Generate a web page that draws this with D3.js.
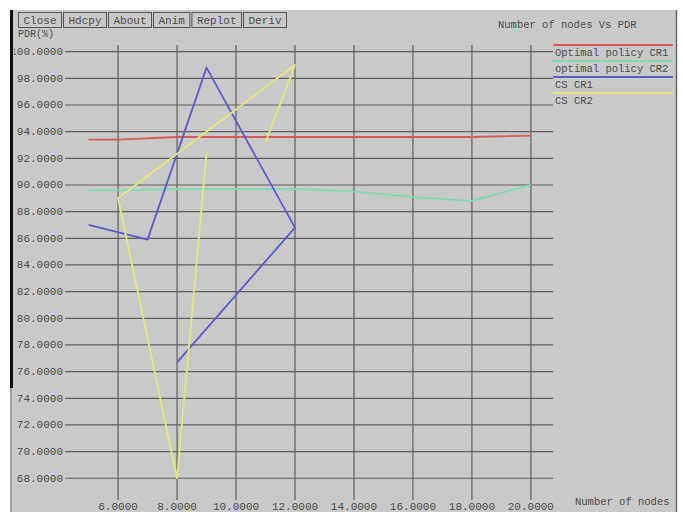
<!DOCTYPE html>
<html>
<head>
<meta charset="utf-8">
<script src="https://cdn.jsdelivr.net/npm/d3@7"></script>
<style>
  html, body { margin: 0; padding: 0; background: #ffffff; }
  svg { display: block; }
  text { font-family: "Liberation Mono", "DejaVu Sans Mono", monospace; }
</style>
</head>
<body>
<script>
// ---- data ----
const chartTitle = "Number of nodes Vs PDR";
const xAxisLabel = "Number of nodes";
const yAxisLabel = "PDR(%)";
const buttonLabels = ["Close", "Hdcpy", "About", "Anim", "Replot", "Deriv"];

const xTicks = [6, 8, 10, 12, 14, 16, 18, 20];
const yTicks = [68, 70, 72, 74, 76, 78, 80, 82, 84, 86, 88, 90, 92, 94, 96, 98, 100];

const seriesNames = ["Optimal policy CR1", "optimal policy CR2", "CS CR1", "CS CR2"];
const seriesColors = ["#d85858", "#7fdcae", "#5a5ac8", "#e6e67c"];

const optCR1X = [5, 6, 8, 10, 12, 14, 16, 18, 20];
const optCR1Y = [93.4, 93.4, 93.6, 93.6, 93.6, 93.6, 93.6, 93.6, 93.7];

const optCR2X = [5, 6, 8, 10, 12, 14, 16, 18, 20];
const optCR2Y = [89.6, 89.6, 89.7, 89.7, 89.7, 89.5, 89.1, 88.8, 90.0];

const csCR1X = [5, 7, 9, 12, 8];
const csCR1Y = [87.0, 85.9, 98.8, 86.8, 76.7];

const csCR2X = [9, 8, 6, 12, 11];
const csCR2Y = [92.4, 68.0, 89.0, 99.0, 93.2];

const seriesX = [optCR1X, optCR2X, csCR1X, csCR2X];
const seriesY = [optCR1Y, optCR2Y, csCR1Y, csCR2Y];

// ---- layout ----
const W = 683, H = 512;
const svg = d3.select("body").append("svg").attr("width", W).attr("height", H);

// window panel
svg.append("rect").attr("x", 10).attr("y", 10).attr("width", 667).attr("height", H - 10)
  .attr("fill", "#c9c9c9");

// clip for the value labels at the window's left edge
svg.append("defs").append("clipPath").attr("id", "panel-clip")
  .append("rect").attr("x", 14).attr("y", 0).attr("width", W).attr("height", H);

const x = d3.scaleLinear().domain([4.2, 20.75]).range([65, 553]);
const y = d3.scaleLinear().domain([66.37, 100.5]).range([500, 45]);

const gridColor = "#5e5e5e";
const textColor = "#4a4a4a";

// horizontal grid lines with value labels
const yg = svg.append("g");
yg.selectAll("line").data(yTicks).join("line")
  .attr("x1", x.range()[0]).attr("x2", x.range()[1])
  .attr("y1", d => y(d)).attr("y2", d => y(d))
  .attr("stroke", gridColor).attr("stroke-width", 1.2);
yg.append("g").attr("clip-path", "url(#panel-clip)")
  .selectAll("text").data(yTicks).join("text")
  .attr("x", 63).attr("y", d => y(d) + 3.5)
  .attr("text-anchor", "end").attr("font-size", 11).attr("fill", textColor)
  .text(d => d3.format(".4f")(d));

// vertical grid lines with value labels
const xg = svg.append("g");
xg.selectAll("line").data(xTicks).join("line")
  .attr("x1", d => x(d)).attr("x2", d => x(d))
  .attr("y1", y.range()[1]).attr("y2", y.range()[0])
  .attr("stroke", gridColor).attr("stroke-width", 1.2);
xg.selectAll("text").data(xTicks).join("text")
  .attr("x", d => x(d)).attr("y", 510)
  .attr("text-anchor", "middle").attr("font-size", 11).attr("fill", textColor)
  .text(d => d3.format(".4f")(d));

// axis captions and title
svg.append("text").attr("x", 575).attr("y", 505).attr("font-size", 10.5)
  .attr("fill", textColor).text(xAxisLabel);
svg.append("text").attr("x", 18).attr("y", 37).attr("font-size", 10)
  .attr("fill", textColor).text(yAxisLabel);
svg.append("text").attr("x", 498).attr("y", 28).attr("font-size", 10.5)
  .attr("fill", textColor).text(chartTitle);

// data lines
const line = d3.line().x(d => x(d[0])).y(d => y(d[1]));
seriesNames.forEach((name, i) => {
  const pts = seriesX[i].map((v, j) => [v, seriesY[i][j]]);
  svg.append("path").datum(pts)
    .attr("d", line)
    .attr("fill", "none")
    .attr("stroke", seriesColors[i])
    .attr("stroke-width", 1.8)
    .attr("stroke-linejoin", "round");
});

// legend
const lg = svg.append("g");
seriesNames.forEach((name, i) => {
  const ly = 45 + i * 16;
  lg.append("line").attr("x1", 553).attr("x2", 673).attr("y1", ly).attr("y2", ly)
    .attr("stroke", seriesColors[i]).attr("stroke-width", 1.8);
  lg.append("text").attr("x", 555).attr("y", ly + 10.5).attr("font-size", 10.5)
    .attr("fill", textColor).text(name);
});

// button bar
const bg = svg.append("g");
let bx = 18;
buttonLabels.forEach(lbl => {
  const bw = lbl.length * 6.6 + 10;
  bg.append("rect").attr("x", bx + 0.5).attr("y", 12.5).attr("width", bw).attr("height", 15)
    .attr("fill", "#c9c9c9").attr("stroke", "#555").attr("stroke-width", 1);
  bg.append("text").attr("x", bx + bw / 2 + 0.5).attr("y", 24).attr("text-anchor", "middle")
    .attr("font-size", 11).attr("fill", textColor).text(lbl);
  bx += bw + 2;
});

// window frame
svg.append("rect").attr("x", 0).attr("y", 0).attr("width", 10).attr("height", H).attr("fill", "#fff");
svg.append("line").attr("x1", 11.5).attr("x2", 11.5).attr("y1", 10).attr("y2", 388)
  .attr("stroke", "#111").attr("stroke-width", 3);
svg.append("line").attr("x1", 11).attr("x2", 11).attr("y1", 388).attr("y2", H)
  .attr("stroke", "#777").attr("stroke-width", 1);
svg.append("line").attr("x1", 676.5).attr("x2", 676.5).attr("y1", 10).attr("y2", H)
  .attr("stroke", "#666").attr("stroke-width", 1.5);
</script>
</body>
</html>
